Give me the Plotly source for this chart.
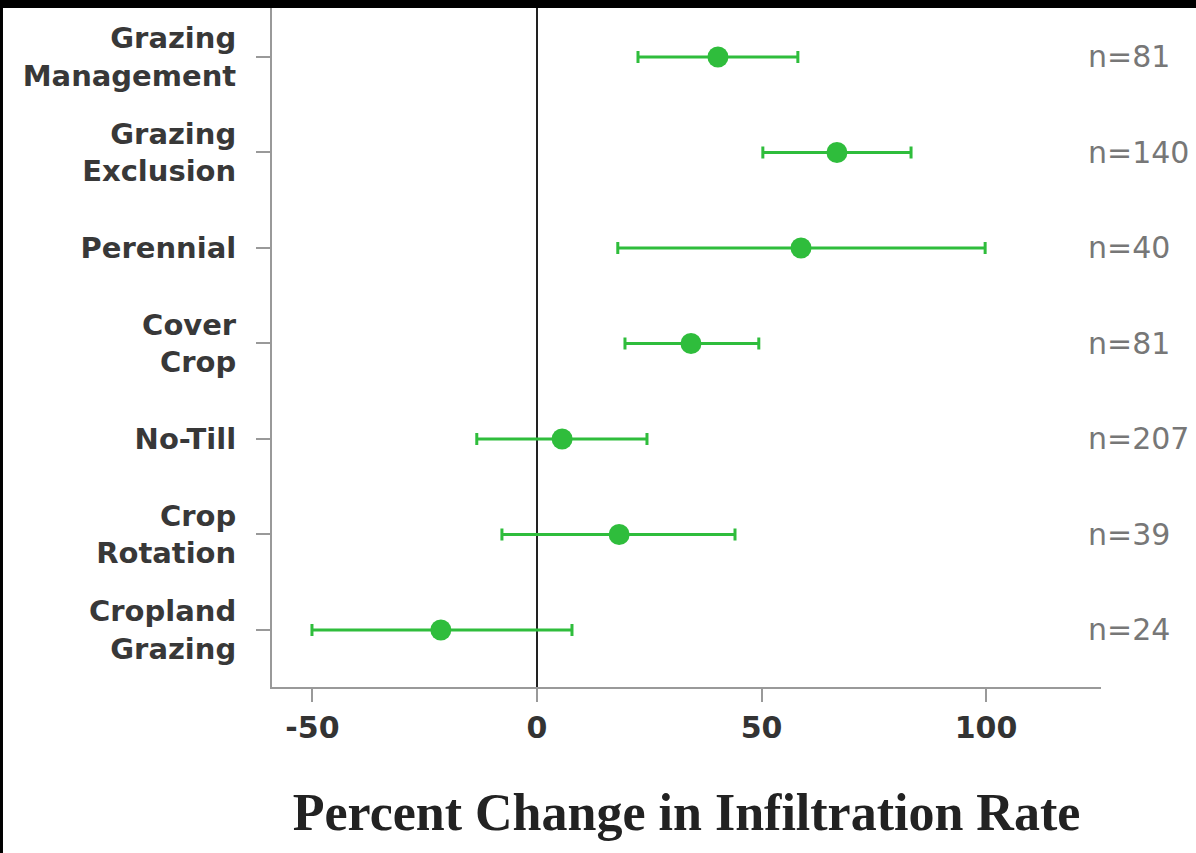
import plotly.graph_objects as go

categories = ["Grazing<br>Management", "Grazing<br>Exclusion", "Perennial", "Cover<br>Crop",
              "No-Till", "Crop<br>Rotation", "Cropland<br>Grazing"]
mean_change = [40.3, 66.8, 58.8, 34.3, 5.6, 18.3, -21.4]
ci_low = [22.5, 50.3, 18.0, 19.6, -13.4, -7.8, -50.1]
ci_high = [58.1, 83.3, 99.8, 49.4, 24.5, 44.1, 7.8]
n_obs = [81, 140, 40, 81, 207, 39, 24]
x_ticks = [-50, 0, 50, 100]
x_tick_labels = ["-50", "0", "50", "100"]

GREEN = "#2fbd3c"

fig = go.Figure()
fig.add_trace(go.Scatter(
    x=mean_change, y=categories, mode="markers",
    marker=dict(size=21, color=GREEN),
    error_x=dict(type="data", symmetric=False,
                 array=[h - m for h, m in zip(ci_high, mean_change)],
                 arrayminus=[m - l for m, l in zip(mean_change, ci_low)],
                 color=GREEN, thickness=3, width=6),
    showlegend=False, hoverinfo="skip",
))

for cat, n in zip(categories, n_obs):
    fig.add_annotation(x=122.3, y=cat, xref="x", yref="y", text=f"n={n}",
                       showarrow=False, xanchor="left", yanchor="middle",
                       font=dict(family="DejaVu Sans", size=30, color="#777777"))

# black scan borders of the original picture
fig.add_shape(type="rect", xref="paper", yref="paper", x0=-0.5, x1=1.5, y0=1.0, y1=1.1,
              fillcolor="black", line=dict(width=0), layer="above")
fig.add_shape(type="rect", xref="paper", yref="paper", x0=-0.4, x1=-0.3245, y0=-0.5, y1=1.1,
              fillcolor="black", line=dict(width=0), layer="above")

fig.update_layout(
    width=1196, height=853,
    margin=dict(l=272, r=95, t=8, b=166),
    paper_bgcolor="white", plot_bgcolor="white",
    xaxis=dict(range=[-59, 125.6], tickvals=x_ticks, ticktext=x_tick_labels,
               ticks="outside", ticklen=13,
               tickcolor="#999", tickwidth=2, showline=True, linecolor="#999", linewidth=2,
               showgrid=False, zeroline=True, zerolinecolor="#222", zerolinewidth=2,
               tickfont=dict(family="DejaVu Sans", size=30, color="#333", weight="bold"),
               title=dict(text="<b>Percent Change in Infiltration Rate</b>",
                          font=dict(family="Liberation Serif", size=52, color="#222"),
                          standoff=50)),
    yaxis=dict(type="category", categoryorder="array", categoryarray=categories,
               range=[6.597, -0.513], ticks="outside", ticklen=14, tickcolor="#999",
               tickwidth=2, showline=True, linecolor="#999", linewidth=2, showgrid=False,
               ticklabelstandoff=14,
               tickfont=dict(family="DejaVu Sans", size=29, color="#383838", weight="bold")),
)

fig.write_html("out.html", config={"displayModeBar": False},
               post_script="document.body.style.margin='0';")
